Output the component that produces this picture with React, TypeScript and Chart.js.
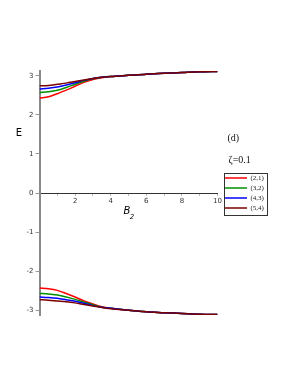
import React, { useEffect, useRef } from "react";
import { Chart, registerables } from "chart.js";

Chart.register(...registerables);

const xs = [0, 0.5, 1, 1.5, 2, 2.5, 3, 3.5, 4, 5, 6, 7, 8, 9, 10];
const seriesLabels = ["(2,1)", "(3,2)", "(4,3)", "(5,4)"];
const seriesColors = ["#ff0000", "#008f00", "#0000ff", "#7a0000"];

const upper21 = [2.43, 2.46, 2.54, 2.63, 2.73, 2.83, 2.9, 2.95, 2.98, 3.01, 3.04, 3.06, 3.08, 3.1, 3.11];
const upper32 = [2.57, 2.59, 2.63, 2.7, 2.78, 2.86, 2.92, 2.96, 2.98, 3.01, 3.04, 3.06, 3.08, 3.1, 3.11];
const upper43 = [2.66, 2.68, 2.71, 2.76, 2.82, 2.88, 2.93, 2.96, 2.98, 3.01, 3.04, 3.06, 3.08, 3.1, 3.11];
const upper54 = [2.74, 2.75, 2.78, 2.81, 2.85, 2.89, 2.93, 2.96, 2.98, 3.01, 3.04, 3.06, 3.08, 3.1, 3.11];

const lower21 = [-2.43, -2.45, -2.49, -2.57, -2.66, -2.76, -2.84, -2.91, -2.95, -3.0, -3.04, -3.06, -3.08, -3.1, -3.11];
const lower32 = [-2.57, -2.58, -2.61, -2.66, -2.72, -2.79, -2.86, -2.92, -2.95, -3.0, -3.04, -3.06, -3.08, -3.1, -3.11];
const lower43 = [-2.66, -2.67, -2.69, -2.73, -2.77, -2.82, -2.88, -2.92, -2.95, -3.0, -3.04, -3.06, -3.08, -3.1, -3.11];
const lower54 = [-2.73, -2.74, -2.76, -2.78, -2.81, -2.85, -2.89, -2.93, -2.96, -3.0, -3.04, -3.06, -3.08, -3.1, -3.11];

const upperSeries = [upper21, upper32, upper43, upper54];
const lowerSeries = [lower21, lower32, lower43, lower54];

const xTickLabels = [2, 4, 6, 8, 10];
const panelLabel = "(d)";
const zetaLabel = "ζ=0.1";

const W = 291;
const H = 376;

export default function App() {
  const ref = useRef<HTMLCanvasElement | null>(null);

  useEffect(() => {
    const canvas = ref.current;
    if (!canvas) return;

    const legendFontSize = 7;
    const legendFamily = "'Liberation Serif', 'DejaVu Serif', serif";
    const legendPad = 3;
    const lineW = 22;
    const chartRight = 217.5;
    const gap = 4.5;

    const mk = (arr: number[], i: number, show: boolean) => ({
      label: seriesLabels[i],
      data: xs.map((x, k) => ({ x, y: arr[k] })),
      borderColor: seriesColors[i],
      backgroundColor: seriesColors[i],
      borderWidth: 1.5,
      pointRadius: 0,
      tension: 0.4,
      cubicInterpolationMode: "monotone" as const,
      fill: false,
      order: 4 - i,
      showInLegend: show,
    });

    const datasets: any[] = [];
    upperSeries.forEach((a, i) => datasets.push(mk(a, i, true)));
    lowerSeries.forEach((a, i) => datasets.push(mk(a, i, false)));

    const decorations = {
      id: "decorations",
      afterDraw(chart: any) {
        const ctx = chart.ctx;
        ctx.save();
        const lg = chart.legend;
        if (lg && lg.legendHitBoxes && lg.legendHitBoxes.length) {
          const hb = lg.legendHitBoxes;
          let l = Infinity, t = Infinity, r = -Infinity, b = -Infinity;
          hb.forEach((h: any) => {
            l = Math.min(l, h.left);
            t = Math.min(t, h.top);
            r = Math.max(r, h.left + h.width);
            b = Math.max(b, h.top + h.height);
          });
          ctx.strokeStyle = "#333";
          ctx.lineWidth = 1;
          ctx.strokeRect(Math.round(l - 1.5) + 0.5, Math.round(t - 2) + 0.5, Math.round(r - l + 4.5), Math.round(b - t + 4.5));
        }
        ctx.fillStyle = "#111";
        ctx.textBaseline = "middle";
        ctx.textAlign = "left";
        ctx.font = "10px 'Liberation Serif', serif";
        ctx.fillText(panelLabel, 227.5, 138.5);
        ctx.fillText(zetaLabel, 228.5, 160.5);
        ctx.fillStyle = "#000";
        ctx.textAlign = "center";
        ctx.font = "10px 'DejaVu Sans', sans-serif";
        ctx.fillText("E", 19, 133);
        ctx.textAlign = "left";
        ctx.font = "italic 10px 'DejaVu Sans', sans-serif";
        ctx.fillText("B", 123.5, 211.5);
        const bw = ctx.measureText("B").width;
        ctx.font = "italic 7px 'DejaVu Sans', sans-serif";
        ctx.fillText("2", 123.5 + bw - 0.5, 217);
        ctx.restore();
      },
    };

    const chart: any = new Chart(canvas, {
      type: "line",
      data: { datasets },
      options: {
        responsive: false,
        animation: false,
        events: [],
        layout: { padding: { left: 0, top: 71, bottom: 61, right: 16 } },
        plugins: {
          tooltip: { enabled: false },
          title: { display: false },
          legend: {
            display: true,
            position: "right",
            labels: {
              filter: (item: any, data: any) => data.datasets[item.datasetIndex].showInLegend,
              sort: (a: any, b: any) => a.datasetIndex - b.datasetIndex,
              usePointStyle: true,
              pointStyle: "line",
              pointStyleWidth: lineW,
              padding: legendPad,
              color: "#222",
              font: { family: legendFamily, size: legendFontSize },
            },
          },
        },
        scales: {
          x: {
            type: "linear",
            min: 0,
            max: 10,
            position: { y: 0 } as any,
            grid: { display: true, drawOnChartArea: false, drawTicks: true, tickLength: 2, color: "#bbb" },
            border: { display: true, color: "#333", width: 1 },
            ticks: {
              stepSize: 1,
              autoSkip: false,
              maxRotation: 0,
              padding: 2,
              color: "#333",
              font: { family: "'DejaVu Sans', sans-serif", size: 7 },
              callback: (v: any) => (xTickLabels.includes(Number(v)) ? String(v) : ""),
            },
          },
          y: {
            type: "linear",
            min: -3.12,
            max: 3.12,
            position: "left",
            afterFit: (s: any) => {
              s.width = 39.5;
            },
            grid: { display: true, drawOnChartArea: false, drawTicks: true, tickLength: 4, color: "#999" },
            border: { display: true, color: "#8a8a8a", width: 2 },
            ticks: {
              stepSize: 1,
              includeBounds: false,
              padding: 2,
              color: "#333",
              font: { family: "'DejaVu Sans', sans-serif", size: 7 },
            },
          },
          gap: {
            type: "linear",
            position: "right",
            display: true,
            afterFit: (s: any) => {
              s.width = gap;
            },
            grid: { display: false },
            border: { display: false },
            ticks: { display: false },
          },
        },
      },
      plugins: [decorations],
    } as any);

    // correct the right padding so that x = 10 lands where the reference puts it
    for (let k = 0; k < 3; k++) {
      const diff = chart.chartArea.right - chartRight;
      if (Math.abs(diff) < 0.05) break;
      chart.options.layout.padding.right = Math.max(0, chart.options.layout.padding.right + diff);
      chart.update();
    }

    return () => chart.destroy();
  }, []);

  return (
    <div style={{ position: "fixed", left: 0, top: 0, width: W, height: H, background: "#fff" }}>
      <canvas ref={ref} width={W} height={H} style={{ display: "block", width: W, height: H }} />
    </div>
  );
}
